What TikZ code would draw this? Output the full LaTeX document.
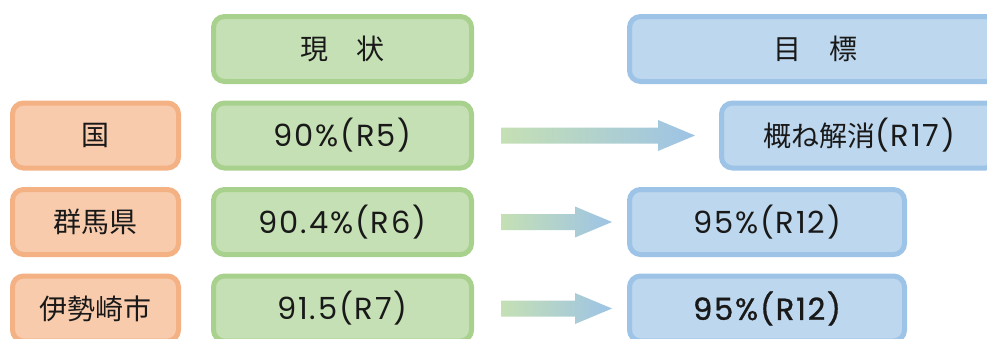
\documentclass[tikz,border=0pt]{standalone}
\usepackage{fontspec}
\setmainfont{Poppins}[LetterSpace=6]
\newfontfamily\jpfont{Noto Sans CJK JP}
\newfontfamily\latbold[FakeBold=1, LetterSpace=6]{Poppins}
\newcommand\jp[1]{{\jpfont\fontsize{28}{32}\selectfont #1}}
\usepackage{tikz}
\usetikzlibrary{calc}

\definecolor{orgfill}{HTML}{F8CBAD}
\definecolor{orgline}{HTML}{F4B183}
\definecolor{grnfill}{HTML}{C5E0B4}
\definecolor{grnline}{HTML}{A9D18E}
\definecolor{blufill}{HTML}{BDD7EE}
\definecolor{bluline}{HTML}{9DC3E6}

\begin{document}
\begin{tikzpicture}[
  x=1pt, y=-1pt,
  every node/.style={font=\fontsize{30.5}{34}\selectfont, text=black!90},
  basebox/.style={rounded corners=11pt, line width=5pt, inner sep=0pt, minimum height=65pt},
  areabox/.style={basebox, draw=orgline, fill=orgfill, minimum width=166pt},
  nowbox/.style={basebox, draw=grnline, fill=grnfill, minimum width=258pt},
  goalbox/.style={basebox, draw=bluline, fill=blufill, minimum width=275pt}
]
\useasboundingbox (0,0) rectangle (987,338);
\clip (0,0) rectangle (987,338);

% Column headers
\node[nowbox] (hnow) at (342.5, 49) {\jp{現　状}};
\node[goalbox, minimum width=371pt] (hgoal) at (815, 49) {\jp{目　標}};

% Areas
\node[areabox] (area1) at (95.5, 135.5) {\jp{国}};
\node[areabox] (area2) at (95.5, 222) {\jp{群馬県}};
\node[areabox] (area3) at (95.5, 308.5) {\jp{伊勢崎市}};

% Current values
\node[nowbox] (now1) at (342.5, 135.5) {90\%(R5)};
\node[nowbox] (now2) at (342.5, 222) {90.4\%(R6)};
\node[nowbox] (now3) at (342.5, 308.5) {91.5(R7)};

% Targets
\node[goalbox] (goal1) at (859, 135.5) {\jp{概ね解消}(R17)};
\node[goalbox] (goal2) at (767, 222) {95\%(R12)};
\node[goalbox] (goal3) at (767, 308.5) {\latbold 95\%(R12)};

% Gradient arrows
\foreach \src/\dst/\gap in {now1/goal1/24, now2/goal2/15, now3/goal3/15} {
  \coordinate (a) at ($(\src.east)+(27,0)$);
  \coordinate (b) at ($(\dst.west)+(-\gap,0)$);
  \shade[left color=grnfill, right color=bluline]
    ($(a)+(0,-8)$) -- ($(b)+(-37,-8)$) -- ($(b)+(-37,-15.5)$) -- (b)
    -- ($(b)+(-37,15.5)$) -- ($(b)+(-37,8)$) -- ($(a)+(0,8)$) -- cycle;
}

\end{tikzpicture}
\end{document}
